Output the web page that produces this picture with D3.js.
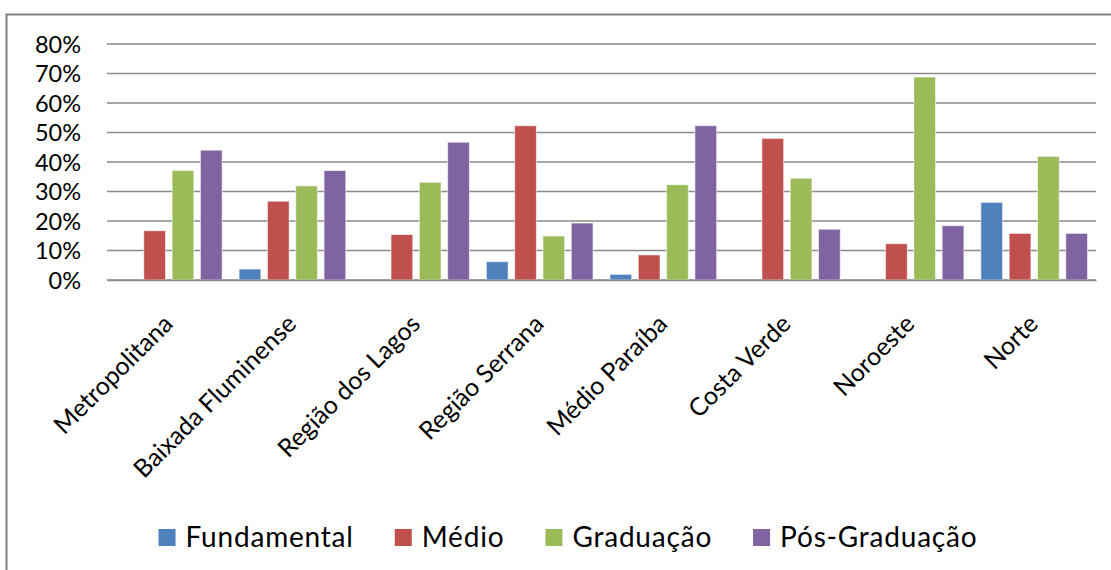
<!DOCTYPE html>
<html>
<head>
<meta charset="utf-8">
<script src="https://cdn.jsdelivr.net/npm/d3@7"></script>
<style>
  body { margin: 0; background: #fff; }
  svg { display: block; }
  text { font-family: Lato, "Open Sans", sans-serif; fill: #000; }
</style>
</head>
<body>
<svg id="chart" width="1111" height="570"></svg>
<script>
// Regions of the state and share (%) of each education level
const regions = ["Metropolitana", "Baixada Fluminense", "Região dos Lagos", "Região Serrana",
                 "Médio Paraíba", "Costa Verde", "Noroeste", "Norte"];
const seriesNames = ["Fundamental", "Médio", "Graduação", "Pós-Graduação"];
const fundamental  = [0, 3.7, 0, 6.2, 1.9, 0, 0, 26.3];
const medio        = [16.7, 26.7, 15.4, 52.3, 8.5, 48.0, 12.3, 15.8];
const graduacao    = [37.1, 31.9, 33.1, 14.9, 32.3, 34.5, 68.8, 41.9];
const posGraduacao = [44.0, 37.1, 46.7, 19.3, 52.3, 17.2, 18.4, 15.8];
const yTicks = [0, 10, 20, 30, 40, 50, 60, 70, 80];
const colors = ["#4F81BD", "#C0504D", "#9BBB59", "#8064A2"];

const seriesValues = [fundamental, medio, graduacao, posGraduacao];

const svg = d3.select("#chart");

// Outer chart frame (runs off the right and bottom edges)
svg.append("rect")
  .attr("x", 6.5).attr("y", 14.5)
  .attr("width", 1300).attr("height", 700)
  .attr("fill", "none").attr("stroke", "#808080").attr("stroke-width", 2);

const plot = { left: 107, right: 1096, top: 44, bottom: 280 };

const y = d3.scaleLinear().domain([0, 80]).range([plot.bottom, plot.top]);
const x0 = d3.scaleBand().domain(regions).range([plot.left, plot.right]).padding(0);
const x1 = d3.scaleBand().domain(seriesNames).range([0, x0.bandwidth()])
  .paddingInner(0.233).paddingOuter(0.30);

// Horizontal gridlines
svg.append("g")
  .selectAll("line")
  .data(yTicks)
  .join("line")
  .attr("x1", plot.left).attr("x2", plot.right)
  .attr("y1", d => y(d)).attr("y2", d => y(d))
  .attr("stroke", "#8a8a8a").attr("stroke-width", 1.3);

// Value axis labels
const yAxis = svg.append("g")
  .attr("transform", `translate(${81},0)`)
  .call(d3.axisLeft(y).tickValues(yTicks).tickSize(0).tickPadding(0).tickFormat(d => d + "%"));
yAxis.select(".domain").remove();
yAxis.selectAll("text")
  .attr("font-family", "Lato, 'Open Sans', sans-serif")
  .attr("font-size", 23.5)
  .attr("fill", "#000")
  .attr("dy", "0.34em");

// Bars
const groups = svg.append("g")
  .selectAll("g")
  .data(regions)
  .join("g")
  .attr("transform", d => `translate(${x0(d)},0)`);

groups.selectAll("rect")
  .data((r, i) => seriesNames.map((s, k) => ({ series: s, k, value: seriesValues[k][i] }))
                             .filter(d => d.value > 0))
  .join("rect")
  .attr("x", d => x1(d.series))
  .attr("width", x1.bandwidth())
  .attr("y", d => y(d.value))
  .attr("height", d => y(0) - y(d.value))
  .attr("fill", d => colors[d.k])
  .attr("stroke", "#ffffff").attr("stroke-opacity", 0.55).attr("stroke-width", 1);

// Category axis with rotated labels
const xAxis = svg.append("g")
  .attr("transform", `translate(0,${plot.bottom})`)
  .call(d3.axisBottom(x0).tickSize(0).tickPadding(0));
xAxis.select(".domain").attr("stroke", "#8a8a8a").attr("stroke-width", 1.3);
xAxis.selectAll("text")
  .attr("font-family", "Lato, 'Open Sans', sans-serif")
  .attr("font-size", 25)
  .attr("fill", "#000")
  .attr("text-anchor", "end")
  .attr("y", 0).attr("dy", 0)
  .attr("transform", "translate(5.5,45.5) rotate(-45)");

// Legend
const legend = svg.append("g");
const items = legend.selectAll("g")
  .data(seriesNames)
  .join("g");
items.append("rect")
  .attr("width", 17).attr("height", 17)
  .attr("y", 529)
  .attr("fill", (d, i) => colors[i]);
items.append("text")
  .attr("font-size", 28)
  .attr("letter-spacing", 0.8)
  .attr("y", 546.5)
  .text(d => d);

const sq = 17, gapText = 10, gapItem = 41;
let widths = [];
items.each(function () { widths.push(d3.select(this).select("text").node().getComputedTextLength()); });
const total = d3.sum(widths) + seriesNames.length * (sq + gapText) + (seriesNames.length - 1) * gapItem;
let cx = 568 - total / 2;
items.each(function (d, i) {
  const g = d3.select(this);
  g.select("rect").attr("x", cx);
  g.select("text").attr("x", cx + sq + gapText);
  cx += sq + gapText + widths[i] + gapItem;
});
</script>
</body>
</html>
